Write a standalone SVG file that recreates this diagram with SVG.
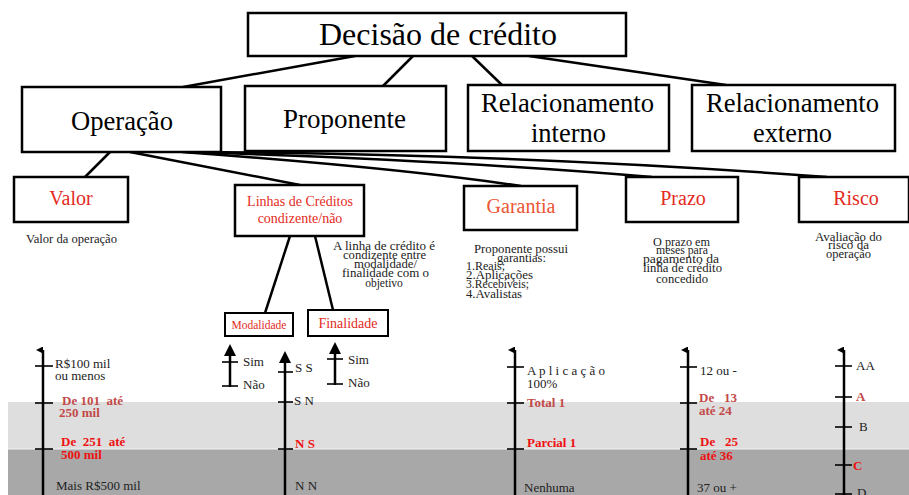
<svg xmlns="http://www.w3.org/2000/svg" width="909" height="495" viewBox="0 0 909 495">
<defs>
<style>
.box{fill:#fff;stroke:#000;stroke-width:2.5}
.sbox{fill:#fff;stroke:#000;stroke-width:2}
text{font-family:'Liberation Serif','Times New Roman','DejaVu Serif',serif}
.t{fill:#000}
.big{font-size:31px}
.mid{font-size:27px}
.red{fill:#e32b22}
.org{fill:#ea5535}
.sub{font-size:20px}
.desc{font-size:11.5px;fill:#222}
.lbl{font-size:13px;fill:#222}
.b{font-weight:bold}
.mr{fill:#c24a48}
.br{fill:#ee1111}
.con{stroke:#000;stroke-width:2.5;fill:none}
.ax{stroke:#000;stroke-width:2.5}
.tk{stroke:#000;stroke-width:1.6}
</style>
<marker id="ah" viewBox="0 0 10 10" refX="5" refY="10" markerWidth="7" markerHeight="8" markerUnits="userSpaceOnUse" orient="auto-start-reverse">
<path d="M0,10 L5,0 L10,10 Z" fill="#000"/>
</marker>
</defs>
<rect width="909" height="495" fill="#fff"/>
<rect x="8" y="402" width="901" height="47" fill="#dedede"/>
<rect x="8" y="449" width="901" height="46" fill="#a8a8a8"/>
<line x1="8" y1="449" x2="909" y2="449" stroke="#f4f4f4" stroke-width="1"/>

<g id="connectors">
<line class="con" x1="355" y1="56" x2="183" y2="87"/>
<line class="con" x1="413" y1="56" x2="383" y2="86"/>
<line class="con" x1="472" y1="56" x2="502" y2="85"/>
<line class="con" x1="529" y1="56" x2="726" y2="85"/>
<line class="con" x1="110" y1="152" x2="85" y2="177"/>
<line class="con" x1="130" y1="152" x2="300" y2="185"/>
<path class="con" d="M182,152 Q400,168 521,186"/>
<path class="con" d="M186,152 Q450,160 652,177"/>
<path class="con" d="M190,152 Q520,154 827,177"/>
<line class="con" x1="290" y1="236" x2="265" y2="313"/>
<line class="con" x1="315" y1="236" x2="333" y2="310"/>
</g>

<g id="decisao">
<rect class="box" x="248" y="13" width="378" height="43"/>
<text class="t big" x="319" y="45" textLength="238" lengthAdjust="spacingAndGlyphs">Decisão de crédito</text>
</g>
<g id="operacao">
<rect class="box" x="22" y="87" width="199" height="65"/>
<text class="t mid" x="71" y="130" textLength="102" lengthAdjust="spacingAndGlyphs">Operação</text>
</g>
<g id="proponente">
<rect class="box" x="245" y="86" width="201" height="65"/>
<text class="t mid" x="283" y="128" textLength="123" lengthAdjust="spacingAndGlyphs">Proponente</text>
</g>
<g id="rel-interno">
<rect class="box" x="468" y="85" width="201" height="66"/>
<text class="t mid" x="481" y="112" textLength="173" lengthAdjust="spacingAndGlyphs">Relacionamento</text>
<text class="t mid" x="531" y="142" textLength="75" lengthAdjust="spacingAndGlyphs">interno</text>
</g>
<g id="rel-externo">
<rect class="box" x="692" y="85" width="203" height="66"/>
<text class="t mid" x="706" y="112" textLength="173" lengthAdjust="spacingAndGlyphs">Relacionamento</text>
<text class="t mid" x="753" y="142" textLength="79" lengthAdjust="spacingAndGlyphs">externo</text>
</g>

<g id="valor">
<rect class="box" x="14" y="177" width="114" height="45"/>
<text class="t sub red" x="71" y="205" text-anchor="middle">Valor</text>
<text class="t desc" x="26" y="243" textLength="91" lengthAdjust="spacingAndGlyphs">Valor da operação</text>
</g>
<g id="linhas">
<rect class="box" x="235" y="185" width="129" height="51"/>
<text class="t red" font-size="14" x="300" y="206" text-anchor="middle">Linhas de Créditos</text>
<text class="t red" font-size="14" x="300" y="223" text-anchor="middle">condizente/não</text>
<text class="t desc" x="333" y="250" textLength="102" lengthAdjust="spacingAndGlyphs">A linha de crédito é</text>
<text class="t desc" x="343" y="259" textLength="83" lengthAdjust="spacingAndGlyphs">condizente entre</text>
<text class="t desc" x="354" y="268" textLength="63" lengthAdjust="spacingAndGlyphs">modalidade/</text>
<text class="t desc" x="342" y="277" textLength="87" lengthAdjust="spacingAndGlyphs">finalidade com o</text>
<text class="t desc" x="384" y="287" text-anchor="middle">objetivo</text>
</g>
<g id="modalidade">
<rect class="sbox" x="225" y="313" width="68" height="23"/>
<text class="t red" font-size="11.5" x="259" y="329" text-anchor="middle">Modalidade</text>
</g>
<g id="finalidade">
<rect class="sbox" x="308" y="310" width="80" height="26"/>
<text class="t red" font-size="14" x="348" y="328" text-anchor="middle">Finalidade</text>
</g>
<g id="garantia">
<rect class="box" x="464" y="186" width="113" height="44"/>
<text class="t sub org" x="521" y="213" text-anchor="middle">Garantia</text>
<text class="t desc" x="474" y="253" textLength="94" lengthAdjust="spacingAndGlyphs">Proponente possui</text>
<text class="t desc" x="497" y="262" textLength="49" lengthAdjust="spacingAndGlyphs">garantias:</text>
<text class="t desc" x="466" y="270" textLength="39" lengthAdjust="spacingAndGlyphs">1.Reais;</text>
<text class="t desc" x="466" y="279" textLength="67" lengthAdjust="spacingAndGlyphs">2.Aplicações</text>
<text class="t desc" x="466" y="288" textLength="63" lengthAdjust="spacingAndGlyphs">3.Recebíveis;</text>
<text class="t desc" x="466" y="298" textLength="56" lengthAdjust="spacingAndGlyphs">4.Avalistas</text>
</g>
<g id="prazo">
<rect class="box" x="626" y="177" width="112" height="45"/>
<text class="t sub red" x="683" y="205" text-anchor="middle">Prazo</text>
<text class="t desc" x="653" y="246" textLength="57" lengthAdjust="spacingAndGlyphs">O prazo em</text>
<text class="t desc" x="656" y="254" textLength="52" lengthAdjust="spacingAndGlyphs">meses para</text>
<text class="t desc" x="643" y="263" textLength="76" lengthAdjust="spacingAndGlyphs">pagamento da</text>
<text class="t desc" x="643" y="272" textLength="79" lengthAdjust="spacingAndGlyphs">linha de crédito</text>
<text class="t desc" x="656" y="283" textLength="52" lengthAdjust="spacingAndGlyphs">concedido</text>
</g>
<g id="risco">
<rect class="box" x="799" y="177" width="110" height="45"/>
<text class="t sub red" x="856" y="205" text-anchor="middle">Risco</text>
<text class="t desc" x="815" y="241" textLength="67" lengthAdjust="spacingAndGlyphs">Avaliação do</text>
<text class="t desc" x="828" y="249" textLength="41" lengthAdjust="spacingAndGlyphs">risco da</text>
<text class="t desc" x="826" y="258" textLength="45" lengthAdjust="spacingAndGlyphs">operação</text>
</g>

<g id="escala-valor">
<line class="ax" x1="43" y1="495" x2="43" y2="350" marker-end="url(#ah)"/>
<line class="tk" x1="35" y1="366" x2="53" y2="366"/>
<line class="tk" x1="35" y1="403" x2="53" y2="403"/>
<line class="tk" x1="35" y1="449" x2="53" y2="449"/>
<text class="t lbl" x="55" y="368">R$100 mil</text>
<text class="t lbl" x="55" y="380">ou menos</text>
<text class="t lbl b mr" x="62" y="405" xml:space="preserve">De 101  até</text>
<text class="t lbl b mr" x="59" y="417">250 mil</text>
<text class="t lbl b br" x="61" y="446" xml:space="preserve">De  251  até</text>
<text class="t lbl b br" x="61" y="459">500 mil</text>
<text class="t lbl" x="56" y="490">Mais R$500 mil</text>
</g>
<g id="escala-modalidade">
<line class="ax" x1="230" y1="387" x2="230" y2="355"/>
<path d="M224,356 L230,344 L236,356 Z" fill="#000"/>
<line class="tk" x1="222" y1="362" x2="238" y2="362"/>
<line class="tk" x1="222" y1="386" x2="238" y2="386"/>
<text class="t lbl" x="243" y="366">Sim</text>
<text class="t lbl" x="243" y="389">Não</text>
</g>
<g id="escala-ss">
<line class="ax" x1="285" y1="495" x2="285" y2="362"/>
<path d="M279,363 L285,351 L291,363 Z" fill="#000"/>
<line class="tk" x1="278" y1="372" x2="293" y2="372"/>
<line class="tk" x1="278" y1="402" x2="293" y2="402"/>
<line class="tk" x1="278" y1="449" x2="293" y2="449"/>
<text class="t lbl" x="295" y="372">S S</text>
<text class="t lbl" x="294" y="405">S N</text>
<text class="t lbl b br" x="295" y="448">N S</text>
<text class="t lbl" x="295" y="490">N N</text>
</g>
<g id="escala-finalidade">
<line class="ax" x1="335" y1="385" x2="335" y2="353"/>
<path d="M329,354 L335,342 L341,354 Z" fill="#000"/>
<line class="tk" x1="327" y1="359" x2="343" y2="359"/>
<line class="tk" x1="327" y1="384" x2="343" y2="384"/>
<text class="t lbl" x="348" y="364">Sim</text>
<text class="t lbl" x="348" y="387">Não</text>
</g>
<g id="escala-garantia">
<line class="ax" x1="515" y1="495" x2="515" y2="350" marker-end="url(#ah)"/>
<line class="tk" x1="507" y1="367" x2="524" y2="367"/>
<line class="tk" x1="507" y1="403" x2="524" y2="403"/>
<line class="tk" x1="507" y1="449" x2="524" y2="449"/>
<text class="t lbl" x="527" y="375">A p l i c a ç ã o</text>
<text class="t lbl" x="527" y="388">100%</text>
<text class="t lbl b mr" x="527" y="407">Total 1</text>
<text class="t lbl b br" x="527" y="447">Parcial 1</text>
<text class="t lbl" x="524" y="492">Nenhuma</text>
</g>
<g id="escala-prazo">
<line class="ax" x1="688" y1="495" x2="688" y2="350" marker-end="url(#ah)"/>
<line class="tk" x1="680" y1="367" x2="697" y2="367"/>
<line class="tk" x1="680" y1="403" x2="697" y2="403"/>
<line class="tk" x1="680" y1="449" x2="697" y2="449"/>
<text class="t lbl" x="700" y="375">12 ou -</text>
<text class="t lbl b mr" x="699" y="402" xml:space="preserve">De   13</text>
<text class="t lbl b mr" x="699" y="415">até 24</text>
<text class="t lbl b br" x="700" y="446" xml:space="preserve">De   25</text>
<text class="t lbl b br" x="700" y="460">até 36</text>
<text class="t lbl" x="697" y="492">37 ou +</text>
</g>
<g id="escala-risco">
<line class="ax" x1="844" y1="495" x2="844" y2="350" marker-end="url(#ah)"/>
<line class="tk" x1="835" y1="366" x2="852" y2="366"/>
<line class="tk" x1="835" y1="397" x2="852" y2="397"/>
<line class="tk" x1="835" y1="427" x2="852" y2="427"/>
<line class="tk" x1="835" y1="465" x2="852" y2="465"/>
<line class="tk" x1="835" y1="494" x2="852" y2="494"/>
<text class="t lbl" x="856" y="370">AA</text>
<text class="t lbl b mr" x="856" y="401">A</text>
<text class="t lbl" x="859" y="431">B</text>
<text class="t lbl b br" x="853" y="470">C</text>
<text class="t lbl" x="857" y="497">D</text>
</g>
</svg>
